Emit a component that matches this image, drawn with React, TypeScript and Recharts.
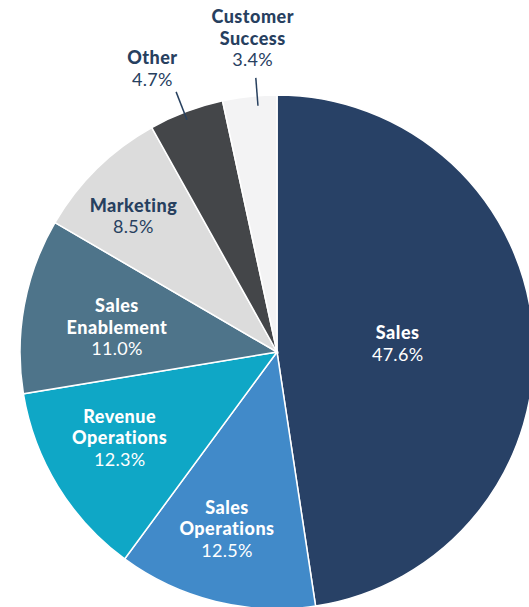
import React from 'react';
import { PieChart, Pie, Cell } from 'recharts';

const names = ['Sales', 'Sales Operations', 'Revenue Operations', 'Sales Enablement', 'Marketing', 'Other', 'Customer Success'];
const shares = [47.6, 12.5, 12.3, 11.0, 8.5, 4.7, 3.4];
const colors = ['#284166', '#418ac9', '#0fa7c6', '#4e748a', '#dcdcdc', '#444649', '#f3f3f4'];

const chartData = names.map((name, i) => ({ name, value: shares[i] }));

// hand placement of labels: radius (px) and angle nudge (deg, clockwise)
const labelLayout: Record<string, { r: number; a: number; color: string; leader?: [number, number, number] }> = {
  'Sales': { r: 121, a: 0, color: '#ffffff' },
  'Sales Operations': { r: 183, a: 2, color: '#ffffff' },
  'Revenue Operations': { r: 179, a: 3, color: '#ffffff' },
  'Sales Enablement': { r: 162, a: -1.5, color: '#ffffff' },
  'Marketing': { r: 198, a: -2, color: '#27405f' },
  'Other': { r: 310, a: -3, color: '#27405f', leader: [249, 279, -0.5] },
  'Customer Success': { r: 315, a: 1.7, color: '#27405f', leader: [247, 275, 1.7] },
};

const FONT = 'Lato, "Open Sans", sans-serif';
const LH = 21.5;

const renderLabel = (props: any) => {
  const { cx, cy, midAngle, name, value } = props;
  const lay = labelLayout[name];
  const theta = 90 - midAngle;
  const pos = (r: number, deg: number) => {
    const t = (deg * Math.PI) / 180;
    return { x: cx + r * Math.sin(t), y: cy - r * Math.cos(t) };
  };
  const c = pos(lay.r, theta + lay.a);
  const lines = name.split(' ');
  const n = lines.length + 1;
  const y0 = c.y - ((n - 1) / 2) * LH;
  let leader = null;
  if (lay.leader) {
    const p1 = pos(lay.leader[0], theta + lay.leader[2]);
    const p2 = pos(lay.leader[1], theta + lay.leader[2]);
    leader = <line x1={p1.x} y1={p1.y} x2={p2.x} y2={p2.y} stroke="#27405f" strokeWidth={1.5} />;
  }
  return (
    <g>
      {leader}
      {lines.map((l: string, i: number) => (
        <text key={l} x={c.x} y={y0 + i * LH} textAnchor="middle" dominantBaseline="central"
          fill={lay.color} fontFamily={FONT} fontWeight={900} fontSize={18} letterSpacing={0.5}>
          {l}
        </text>
      ))}
      <text x={c.x} y={y0 + lines.length * LH} textAnchor="middle" dominantBaseline="central"
        fill={lay.color} fontFamily={FONT} fontWeight={400} fontSize={18} letterSpacing={0.3}>
        {value.toFixed(1)}%
      </text>
    </g>
  );
};

const App: React.FC = () => {
  return (
    <div style={{ position: 'absolute', left: 0, top: 0, width: 529, height: 607, background: '#fff' }}>
      <PieChart width={529} height={607} margin={{ top: 0, right: 0, bottom: 0, left: 0 }}>
        <Pie
          data={chartData}
          dataKey="value"
          nameKey="name"
          cx={277}
          cy={352}
          outerRadius={257}
          startAngle={90}
          endAngle={-270}
          stroke="#ffffff"
          strokeWidth={1.5}
          label={renderLabel}
          labelLine={false}
          isAnimationActive={false}
        >
          {chartData.map((d, i) => (
            <Cell key={d.name} fill={colors[i]} />
          ))}
        </Pie>
      </PieChart>
    </div>
  );
};

export default App;
